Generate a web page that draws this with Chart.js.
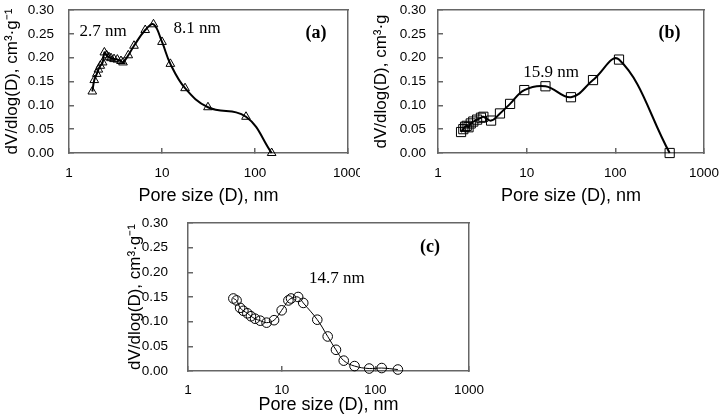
<!DOCTYPE html>
<html>
<head>
<meta charset="utf-8">
<script src="https://cdn.jsdelivr.net/npm/chart.js@4.4.1/dist/chart.umd.min.js"></script>
<style>
  body { margin: 0; background: #fff; }
  #wrap { position: relative; width: 721px; height: 416px; overflow: hidden; }
  canvas { position: absolute; }
</style>
</head>
<body>
<div id="wrap">
  <canvas id="chartA" width="360" height="210" style="left:0;top:0"></canvas>
  <canvas id="chartB" width="361" height="210" style="left:360px;top:0"></canvas>
  <canvas id="chartC" width="380" height="206" style="left:110px;top:210px"></canvas>
</div>
<script>
// pore size (nm) and dV/dlog(D)
const aSize = [1.78, 1.87, 1.99, 2.07, 2.17, 2.30, 2.40, 2.54, 2.69, 2.83, 3.05, 3.31, 3.62, 3.81, 4.34, 5.0, 6.6, 8.1, 10.0, 12.3, 17.7, 31.2, 80, 151];
const aVol = [0.129, 0.153, 0.166, 0.175, 0.183, 0.190, 0.211, 0.205, 0.201, 0.199, 0.197, 0.196, 0.193, 0.190, 0.205, 0.225, 0.258, 0.270, 0.233, 0.187, 0.136, 0.096, 0.076, 0.0];

const bSize = [1.82, 1.93, 2.02, 2.11, 2.21, 2.34, 2.50, 2.76, 3.05, 3.25, 3.97, 5.0, 6.5, 9.4, 16.3, 31.6, 56, 110, 410];
const bVol = [0.044, 0.050, 0.055, 0.057, 0.054, 0.062, 0.066, 0.070, 0.074, 0.076, 0.068, 0.083, 0.103, 0.132, 0.140, 0.117, 0.153, 0.196, 0.0];

const cSize = [3.05, 3.3, 3.6, 3.9, 4.3, 4.7, 5.2, 5.9, 6.9, 8.3, 10.0, 11.8, 12.6, 15.0, 17.0, 24, 31, 38, 46, 60, 86, 117, 174];
const cVol = [0.147, 0.143, 0.128, 0.122, 0.117, 0.111, 0.106, 0.102, 0.098, 0.103, 0.123, 0.143, 0.147, 0.150, 0.138, 0.104, 0.070, 0.043, 0.021, 0.010, 0.005, 0.006, 0.003];

const xTicks = [1, 10, 100, 1000];
const yMax = 0.30;
const yStep = 0.05;

const xTitle = 'Pore size (D), nm';
const yTitleFull = 'dV/dlog(D), cm³·g⁻¹';
const yTitleCut = 'dV/dlog(D), cm³·g';

const sans = "'Liberation Sans', Arial, sans-serif";
const serif = "'Liberation Serif', 'Times New Roman', serif";
const frameColor = '#666666';

function toPoints(xs, ys) {
  return xs.map((v, i) => ({x: v, y: ys[i]}));
}

// text notes placed in data coordinates
const notesPlugin = {
  id: 'notes',
  afterDatasetsDraw(chart, args, opts) {
    const ctx = chart.ctx;
    const xs = chart.scales.x;
    const ys = chart.scales.y;
    ctx.save();
    ctx.fillStyle = '#000';
    ctx.textAlign = 'center';
    ctx.textBaseline = 'middle';
    (opts.items || []).forEach(n => {
      ctx.font = n.font;
      ctx.fillText(n.text, xs.getPixelForValue(n.x), ys.getPixelForValue(n.y));
    });
    ctx.restore();
  }
};

function noPad(s) {
  s.paddingTop = 0;
  s.paddingBottom = 0;
  s.paddingLeft = 0;
  s.paddingRight = 0;
}

// inward tick marks: negative tick length, no lines across the plot
const tickGrid = {display: true, drawOnChartArea: false, drawTicks: true, tickLength: -5, color: frameColor, lineWidth: 1.5};
const frameBorder = {display: true, color: frameColor, width: 1.5};

function makeChart(id, set) {
  return new Chart(document.getElementById(id), {
    type: 'scatter',
    data: {
      datasets: [{
        data: set.data,
        showLine: true,
        tension: 0.4,
        borderColor: '#000',
        borderWidth: set.lineWidth,
        pointStyle: set.marker,
        pointRadius: set.radius,
        pointHoverRadius: set.radius,
        pointBorderColor: '#000',
        pointBorderWidth: 1,
        pointBackgroundColor: 'rgba(0,0,0,0)',
        clip: false
      }]
    },
    options: {
      responsive: false,
      animation: false,
      events: [],
      layout: {padding: {left: 0, top: set.top, right: set.right, bottom: 0}},
      plugins: {
        legend: {display: false},
        tooltip: {enabled: false},
        notes: {items: set.notes}
      },
      scales: {
        x: {
          type: 'logarithmic',
          position: 'bottom',
          min: 1,
          max: 1000,
          afterBuildTicks: s => { s.ticks = xTicks.map(v => ({value: v})); },
          afterFit: s => { s.height = set.xHeight; noPad(s); },
          grid: tickGrid,
          border: frameBorder,
          ticks: {
            color: '#000',
            font: {family: sans, size: 13.5},
            padding: set.xPad + 5,
            maxRotation: 0,
            callback: v => String(v)
          },
          title: {
            display: true,
            text: xTitle,
            color: '#000',
            font: {family: sans, size: 18},
            padding: {top: 0, bottom: set.xTitlePad}
          }
        },
        y: {
          position: 'left',
          min: 0,
          max: yMax,
          afterFit: s => { s.width = set.yWidth; noPad(s); },
          grid: tickGrid,
          border: frameBorder,
          ticks: {
            stepSize: yStep,
            color: '#000',
            font: {family: sans, size: 13.5},
            padding: set.yPad + 5,
            callback: v => v.toFixed(2)
          },
          title: {
            display: true,
            text: set.yTitle,
            color: '#000',
            font: {family: sans, size: 17},
            padding: {top: set.yTitlePad, bottom: 0}
          }
        },
        xTop: {
          type: 'logarithmic',
          position: 'top',
          min: 1,
          max: 1000,
          afterFit: s => { s.height = 0; noPad(s); },
          grid: {display: false, drawTicks: false},
          border: frameBorder,
          ticks: {display: false}
        },
        yRight: {
          position: 'right',
          min: 0,
          max: yMax,
          afterFit: s => { s.width = 0; noPad(s); },
          grid: {display: false, drawTicks: false},
          border: frameBorder,
          ticks: {display: false}
        }
      }
    },
    plugins: [notesPlugin]
  });
}

makeChart('chartA', {
  data: toPoints(aSize, aVol),
  marker: 'triangle', radius: 5, lineWidth: 2,
  top: 10, right: 12, xHeight: 57, yWidth: 69,
  xPad: 12, yPad: 15, xTitlePad: 3, yTitlePad: 2,
  yTitle: yTitleFull,
  notes: [
    {text: '2.7 nm', x: 2.32, y: 0.254, font: '17px ' + serif},
    {text: '8.1 nm', x: 23.8, y: 0.262, font: '17px ' + serif},
    {text: '(a)', x: 453, y: 0.252, font: 'bold 18px ' + serif}
  ]
});

makeChart('chartB', {
  data: toPoints(bSize, bVol),
  marker: 'rect', radius: 6.5, lineWidth: 2,
  top: 10, right: 17, xHeight: 57, yWidth: 78,
  xPad: 12, yPad: 12, xTitlePad: 3, yTitlePad: 11,
  yTitle: yTitleCut,
  notes: [
    {text: '15.9 nm', x: 18.9, y: 0.168, font: '17px ' + serif},
    {text: '(b)', x: 407, y: 0.252, font: 'bold 18px ' + serif}
  ]
});

makeChart('chartC', {
  data: toPoints(cSize, cVol),
  marker: 'circle', radius: 4.8, lineWidth: 1,
  top: 13, right: 21, xHeight: 45, yWidth: 78,
  xPad: 11, yPad: 20, xTitlePad: 0, yTitlePad: 15,
  yTitle: yTitleFull,
  notes: [
    {text: '14.7 nm', x: 38.9, y: 0.187, font: '17px ' + serif},
    {text: '(c)', x: 383, y: 0.251, font: 'bold 18px ' + serif}
  ]
});
</script>
</body>
</html>
